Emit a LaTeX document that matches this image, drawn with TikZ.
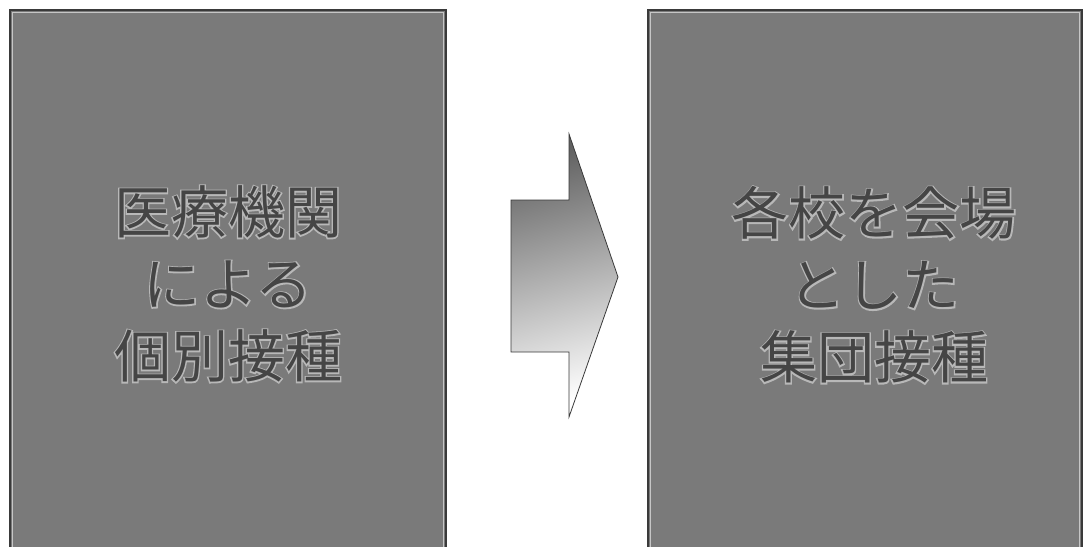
\documentclass[tikz,border=0pt]{standalone}
\usepackage{fontspec}
\newfontfamily\jpfont{Noto Sans CJK JP}
\newfontfamily\jphalo{Noto Sans CJK JP}[FakeBold=4.5]
\definecolor{panelgray}{HTML}{7A7A7A}
\definecolor{edgegray}{HTML}{3A3A3A}
\definecolor{textgray}{HTML}{454545}
\definecolor{halogray}{HTML}{B8B8B8}
\tikzset{
  panel/.style={fill=panelgray},
  paneledge/.style={draw=edgegray, line width=1.2pt},
  panelinner/.style={draw=gray!45, line width=0.8pt},
  labeltext/.style={align=center, inner sep=0pt, text=textgray,
    font=\jpfont\fontsize{57}{72}\selectfont},
  labelhalo/.style={align=center, inner sep=0pt, text=halogray,
    font=\jphalo\fontsize{57}{72}\selectfont},
  blockarrow/.style={draw=edgegray, line width=0.8pt, top color=black!62, bottom color=white, shading angle=15}
}
\begin{document}
\begin{tikzpicture}[x=1pt,y=-1pt]
\useasboundingbox (0,0) rectangle (1089,546);
\fill[white] (0,0) rectangle (1089,546);
% left panel
\fill[panel] (10,10) rectangle (446,547);
\draw[panelinner] (12.5,547) -- (12.5,12.5) -- (443.5,12.5) -- (443.5,547);
\draw[paneledge] (10,547) -- (10,10) -- (446,10) -- (446,547);
% right panel
\fill[panel] (648,10) rectangle (1082,547);
\draw[panelinner] (650.5,547) -- (650.5,12.5) -- (1079.5,12.5) -- (1079.5,547);
\draw[paneledge] (648,547) -- (648,10) -- (1082,10) -- (1082,547);
% arrow
\coordinate (a1) at (511,200);
\coordinate (a2) at (569,200);
\coordinate (a3) at (569,134);
\coordinate (tip) at (618,277);
\coordinate (a5) at (569,417);
\coordinate (a6) at (569,352);
\coordinate (a7) at (511,352);
\path[blockarrow] (a1) -- (a2) -- (a3) -- (tip) -- (a5) -- (a6) -- (a7) -- cycle;
% texts
\node[labelhalo] (lefthalo) at (228,284) {医療機関\\による\\個別接種};
\node[labeltext] (lefttext) at (228,284) {医療機関\\による\\個別接種};
\node[labelhalo] (righthalo) at (874,285) {各校を会場\\とした\\集団接種};
\node[labeltext] (righttext) at (874,285) {各校を会場\\とした\\集団接種};
\end{tikzpicture}
\end{document}
